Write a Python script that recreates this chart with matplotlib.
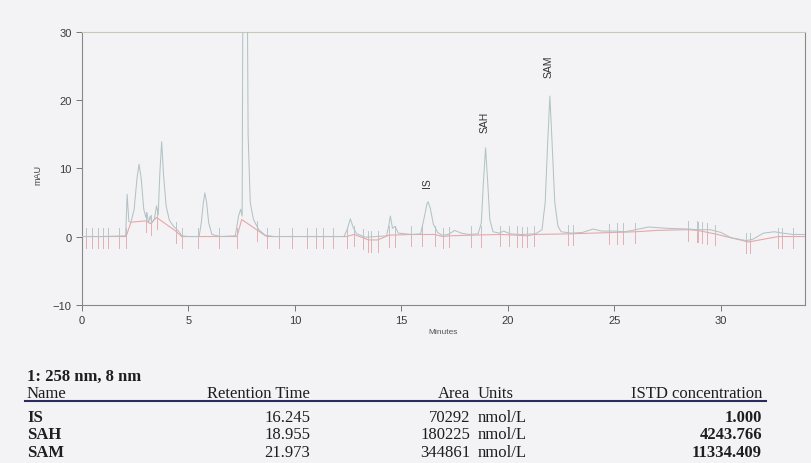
import matplotlib.pyplot as plt

# detector trace (minutes, mAU)
trace_t = [0.0, 1.0, 2.05, 2.12, 2.2, 2.3, 2.45, 2.58, 2.68, 2.78, 2.9, 3.0, 3.05, 3.12, 3.2,
           3.28, 3.4, 3.5, 3.58, 3.65, 3.74, 3.83, 3.95, 4.1, 4.3, 4.5, 4.7, 5.0, 5.5, 5.6,
           5.7, 5.77, 5.85, 5.95, 6.1, 6.5, 7.2, 7.35, 7.45, 7.52, 7.58, 7.72, 7.8, 7.9,
           8.05, 8.3, 8.6, 9.0, 12.3, 12.45, 12.6, 12.75, 12.9, 13.3, 14.3, 14.4, 14.48,
           14.58, 14.7, 14.85, 15.5, 15.9, 16.05, 16.2, 16.25, 16.35, 16.5, 16.7, 16.9,
           17.2, 17.5, 17.8, 18.2, 18.6, 18.75, 18.85, 18.95, 19.05, 19.15, 19.3, 19.6,
           19.8, 20.1, 20.6, 21.3, 21.6, 21.75, 21.87, 21.97, 22.07, 22.2, 22.35, 22.5,
           23.0, 23.5, 24.0, 24.4, 25.0, 25.5, 26.0, 26.6, 27.5, 28.5, 28.9, 29.5, 30.0,
           30.5, 31.2, 31.5, 32.0, 32.5, 32.9, 33.4, 34.0]
trace_y = [0.0, 0.0, 0.1, 6.2, 2.2, 2.1, 4.0, 8.5, 10.6, 8.5, 4.0, 2.8, 3.5, 2.0, 3.0,
           2.0, 2.6, 4.5, 3.2, 9.0, 13.9, 9.0, 4.5, 2.4, 1.5, 0.9, 0.1, 0.0, 0.0, 2.0,
           5.0, 6.4, 5.0, 2.0, 0.3, 0.0, 0.1, 3.0, 4.0, 3.0, 60.0, 60.0, 15.0, 5.0,
           2.5, 1.0, 0.2, 0.0, 0.0, 1.0, 2.6, 1.2, 0.4, -0.1, 0.1, 1.5, 3.0,
           1.2, 1.5, 0.5, 0.3, 0.4, 2.5, 4.8, 5.1, 4.2, 1.8, 0.6, 0.2,
           0.3, 0.9, 0.5, 0.3, 0.4, 2.0, 8.0, 13.0, 8.0, 2.5, 0.7, 0.5,
           0.8, 0.4, 0.3, 0.4, 1.0, 5.0, 14.0, 20.6, 14.0, 5.0, 1.5, 0.7,
           0.5, 0.6, 1.1, 0.8, 0.8, 0.7, 1.0, 1.4, 1.2, 1.1, 1.0, 1.0, 0.6,
           -0.2, -0.6, -0.4, 0.5, 0.7, 0.5, 0.3, 0.3]

# integration baseline
base_t = [0.0, 2.07, 2.3, 3.0, 3.22, 3.5, 4.4, 4.68, 7.28, 7.5, 8.2, 8.67, 12.43, 12.77,
          13.21, 13.45, 13.88, 14.41, 15.45, 16.57, 16.93, 17.25, 18.25, 19.62, 20.42,
          20.9, 21.22, 23.0, 25.0, 26.0, 27.0, 28.46, 28.9, 29.7, 31.3, 32.7, 34.0]
base_y = [0.0, 0.0, 2.1, 2.3, 1.9, 2.8, 0.8, 0.0, 0.0, 2.5, 1.0, 0.0, 0.0, 0.3,
          -0.2, -0.5, -0.5, 0.2, 0.3, 0.3, 0.0, 0.1, 0.2, 0.3, 0.2,
          0.1, 0.3, 0.4, 0.6, 0.7, 0.9, 1.0, 0.9, 0.4, -0.8, 0.0, 0.0]

# peak start / end event marks
event_t = [0.19, 0.45, 0.74, 0.97, 1.24, 1.75, 2.07, 2.99, 3.22, 3.5, 4.4, 4.68, 5.46,
           6.45, 7.28, 8.2, 8.67, 9.26, 9.86, 10.55, 10.99, 11.33, 11.77, 12.43, 12.77,
           13.21, 13.45, 13.57, 13.88, 14.41, 14.69, 15.45, 15.95, 16.57, 16.93, 17.25,
           18.25, 18.73, 19.62, 20.06, 20.42, 20.64, 20.9, 21.22, 22.83, 23.04, 24.76,
           25.14, 25.42, 25.96, 28.46, 28.86, 28.94, 29.09, 29.33, 29.72, 31.2, 31.36,
           32.69, 32.85, 33.39]

peak_names = ['IS', 'SAH', 'SAM']
peak_rt = [16.245, 18.955, 21.973]
peak_label_y = [8.0, 16.9, 25.0]

# result table
tbl_names = ['IS', 'SAH', 'SAM']
tbl_rt = ['16.245', '18.955', '21.973']
tbl_area = ['70292', '180225', '344861']
tbl_units = ['nmol/L', 'nmol/L', 'nmol/L']
tbl_conc = ['1.000', '4243.766', '11334.409']

W, H = 812, 464
PAPER = '#f3f3f5'
SANS = 'Liberation Sans'
SERIF = 'Liberation Serif'


def fx(px):
    return px / W


def fy(py):
    return 1 - py / H


def base_at(t):
    # baseline height at time t (linear between points)
    for i in range(len(base_t) - 1):
        if base_t[i] <= t <= base_t[i + 1]:
            f = (t - base_t[i]) / (base_t[i + 1] - base_t[i])
            return base_y[i] + f * (base_y[i + 1] - base_y[i])
    return 0.0


fig = plt.figure(figsize=(W / 100, H / 100), dpi=100, facecolor=PAPER)
ax = fig.add_axes([fx(82), fy(305.7), fx(805 - 82), (305.7 - 33) / H], facecolor=PAPER)

ax.plot(trace_t, trace_y, color='#b3c3c5', lw=0.75, zorder=3)
ax.plot(base_t, base_y, color='#eaa6a9', lw=0.8, zorder=2)
for t in event_t:
    b = base_at(t)
    ax.plot([t, t], [b - 1.7, b], color='#e8adb1', lw=0.7, zorder=1)
    ax.plot([t, t], [b, b + 1.3], color='#bcc6ca', lw=0.7, zorder=1)

for name, rt, yl in zip(peak_names, peak_rt, peak_label_y):
    ax.text(rt - 0.05, yl, name, rotation=90, ha='center', va='center',
            fontsize=7.5, family=SANS, color='#333333')

ax.set_xlim(0, 33.95)
ax.set_ylim(-10, 30)
ax.set_xticks([0, 5, 10, 15, 20, 25, 30])
ax.set_yticks([-10, 0, 10, 20, 30])
ax.tick_params(length=4, width=0.7, color='#777777', labelsize=8, labelcolor='#3a3a3a')
for lab in ax.get_xticklabels() + ax.get_yticklabels():
    lab.set_family(SANS)
for side in ['left', 'right', 'bottom']:
    ax.spines[side].set_color('#888888')
    ax.spines[side].set_linewidth(0.8)
ax.spines['top'].set_color('#c9c9b8')
ax.spines['top'].set_linewidth(0.8)

fig.text(fx(38), fy(175), 'mAU', rotation=90, ha='center', va='center',
         fontsize=6.5, family=SANS, color='#444444')
fig.text(fx(443), fy(333), 'Minutes', ha='center', va='center',
         fontsize=6, family=SANS, color='#555555')

# table below the chromatogram
tk = dict(family=SERIF, fontsize=12, color='#1e1e1e', va='center')
fig.text(fx(27), fy(377), '1: 258 nm, 8 nm', fontweight='bold', ha='left', **tk)
fig.text(fx(27), fy(394), 'Name', ha='left', **tk)
fig.text(fx(310), fy(394), 'Retention Time', ha='right', **tk)
fig.text(fx(470), fy(394), 'Area', ha='right', **tk)
fig.text(fx(478), fy(394), 'Units', ha='left', **tk)
fig.text(fx(762), fy(394), 'ISTD concentration', ha='right', **tk)
fig.add_artist(plt.Line2D([fx(25), fx(766)], [fy(402), fy(402)], color='#2b2b5e', lw=1.5))

for i in range(len(tbl_names)):
    yy = fy(418 + i * 17.5)
    fig.text(fx(27), yy, tbl_names[i], fontweight='bold', ha='left', **tk)
    fig.text(fx(310), yy, tbl_rt[i], ha='right', **tk)
    fig.text(fx(470), yy, tbl_area[i], ha='right', **tk)
    fig.text(fx(478), yy, tbl_units[i], ha='left', **tk)
    fig.text(fx(762), yy, tbl_conc[i], fontweight='bold', ha='right', **tk)

plt.savefig('out.png', dpi=100, facecolor=PAPER)
